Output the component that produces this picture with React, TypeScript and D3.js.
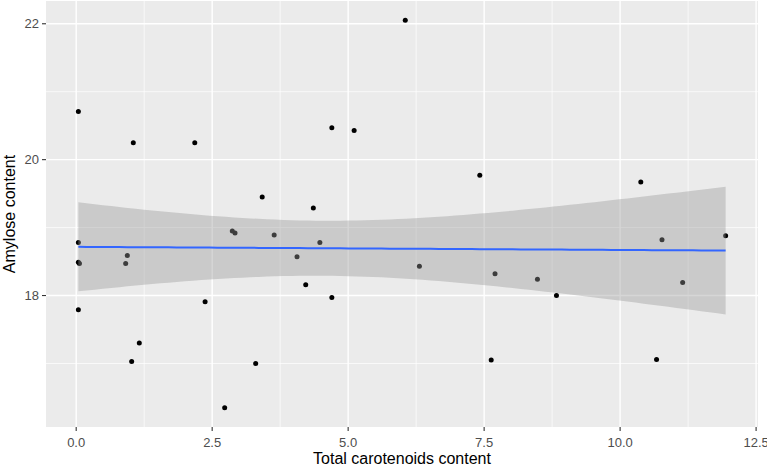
import React, { useEffect, useRef } from "react";
import * as d3 from "d3";

// Total carotenoids content (x) vs amylose content (y).
const carotenoids = [
    0.04, 1.05, 2.18, 6.05, 4.70, 5.11, 3.42, 4.36, 7.42, 3.64,
    10.38, 11.94, 10.77, 8.48, 8.83, 11.15, 10.67, 4.48, 4.06, 6.31,
    7.70, 4.22, 4.70, 7.63, 3.30, 0.04, 0.04, 0.06, 0.94, 0.91,
    0.04, 2.37, 1.16, 1.02, 2.73, 2.87, 2.92,
];

const amylose = [
    20.71, 20.25, 20.25, 22.05, 20.47, 20.43, 19.45, 19.29, 19.77, 18.89,
    19.67, 18.88, 18.82, 18.24, 18.00, 18.19, 17.06, 18.78, 18.57, 18.43,
    18.32, 18.16, 17.97, 17.05, 17.00, 18.78, 18.49, 18.47, 18.59, 18.47,
    17.79, 17.91, 17.30, 17.03, 16.35, 18.95, 18.92,
];

const xTicks = [0, 2.5, 5, 7.5, 10, 12.5];
const xMinorTicks = [1.25, 3.75, 6.25, 8.75, 11.25];
const yTicks = [18, 20, 22];
const yMinorTicks = [17, 19, 21];

const xTitle = "Total carotenoids content";
const yTitle = "Amylose content";

const width = 767;
const height = 468;
const panel = { left: 46, right: 758, top: 1, bottom: 427 };

// qt(0.975, n - 2) for n = 37, as used by geom_smooth(method = "lm").
const tCrit = 2.03;

interface IFitPoint {
    x: number;
    fit: number;
    lower: number;
    upper: number;
}

// Ordinary least squares with a 95% confidence band for the mean.
const linearFit = (xs: number[], ys: number[], steps: number): IFitPoint[] => {
    const n = xs.length;
    const mx = d3.mean(xs) as number;
    const my = d3.mean(ys) as number;
    let sxx = 0;
    let sxy = 0;
    xs.forEach((x, i) => {
        sxx += (x - mx) * (x - mx);
        sxy += (x - mx) * (ys[i] - my);
    });
    const slope = sxy / sxx;
    const intercept = my - slope * mx;
    let sse = 0;
    xs.forEach((x, i) => {
        const r = ys[i] - (intercept + slope * x);
        sse += r * r;
    });
    const s = Math.sqrt(sse / (n - 2));

    const [lo, hi] = d3.extent(xs) as [number, number];
    return d3.range(steps).map((i) => {
        const x = lo + (hi - lo) * i / (steps - 1);
        const fit = intercept + slope * x;
        const se = s * Math.sqrt(1 / n + (x - mx) * (x - mx) / sxx);
        return { x, fit, lower: fit - tCrit * se, upper: fit + tCrit * se };
    });
};

const App = (): React.ReactElement => {
    const svgRef = useRef<SVGSVGElement>(null);

    useEffect(() => {
        if (!svgRef.current) {
            return;
        }

        const svg = d3.select(svgRef.current);
        svg.selectAll("*").remove();

        // ggplot style 5% expansion of the data range.
        const [x0, x1] = d3.extent(carotenoids) as [number, number];
        const [y0, y1] = d3.extent(amylose) as [number, number];
        const dx = (x1 - x0) * 0.05;
        const dy = (y1 - y0) * 0.05;

        const x = d3.scaleLinear().domain([x0 - dx, x1 + dx]).range([panel.left, panel.right]);
        const y = d3.scaleLinear().domain([y0 - dy, y1 + dy]).range([panel.bottom, panel.top]);

        svg.append("rect")
            .attr("x", panel.left)
            .attr("y", panel.top)
            .attr("width", panel.right - panel.left)
            .attr("height", panel.bottom - panel.top)
            .attr("fill", "#EBEBEB");

        // Grid lines.
        const grid = svg.append("g");
        grid.selectAll("line.xminor")
            .data(xMinorTicks)
            .join("line")
            .attr("x1", (d) => x(d)).attr("x2", (d) => x(d))
            .attr("y1", panel.top).attr("y2", panel.bottom)
            .attr("stroke", "#FFFFFF").attr("stroke-width", 0.7);
        grid.selectAll("line.yminor")
            .data(yMinorTicks)
            .join("line")
            .attr("y1", (d) => y(d)).attr("y2", (d) => y(d))
            .attr("x1", panel.left).attr("x2", panel.right)
            .attr("stroke", "#FFFFFF").attr("stroke-width", 0.7);
        grid.selectAll("line.xmajor")
            .data(xTicks)
            .join("line")
            .attr("x1", (d) => x(d)).attr("x2", (d) => x(d))
            .attr("y1", panel.top).attr("y2", panel.bottom)
            .attr("stroke", "#FFFFFF").attr("stroke-width", 1.4);
        grid.selectAll("line.ymajor")
            .data(yTicks)
            .join("line")
            .attr("y1", (d) => y(d)).attr("y2", (d) => y(d))
            .attr("x1", panel.left).attr("x2", panel.right)
            .attr("stroke", "#FFFFFF").attr("stroke-width", 1.4);

        // Points first, so the smoother band shades them like in ggplot.
        svg.append("g")
            .selectAll("circle")
            .data(carotenoids)
            .join("circle")
            .attr("cx", (d) => x(d))
            .attr("cy", (_d, i) => y(amylose[i]))
            .attr("r", 2.5)
            .attr("fill", "#000000");

        const fit = linearFit(carotenoids, amylose, 80);

        const band = d3.area<IFitPoint>()
            .x((d) => x(d.x))
            .y0((d) => y(d.lower))
            .y1((d) => y(d.upper));
        svg.append("path")
            .attr("d", band(fit))
            .attr("fill", "#999999")
            .attr("fill-opacity", 0.4);

        const line = d3.line<IFitPoint>()
            .x((d) => x(d.x))
            .y((d) => y(d.fit));
        svg.append("path")
            .attr("d", line(fit))
            .attr("fill", "none")
            .attr("stroke", "#3366FF")
            .attr("stroke-width", 2);

        // Axes.
        const font = "'Liberation Sans', Arial, sans-serif";

        const xAxis = svg.append("g");
        xAxis.selectAll("line")
            .data(xTicks)
            .join("line")
            .attr("x1", (d) => x(d)).attr("x2", (d) => x(d))
            .attr("y1", panel.bottom).attr("y2", panel.bottom + 4)
            .attr("stroke", "#333333").attr("stroke-width", 1.1);
        xAxis.selectAll("text")
            .data(xTicks)
            .join("text")
            .attr("x", (d) => x(d))
            .attr("y", 447)
            .attr("text-anchor", "middle")
            .attr("font-family", font)
            .attr("font-size", 13)
            .attr("fill", "#4D4D4D")
            .text((d) => d3.format(".1f")(d));

        const yAxis = svg.append("g");
        yAxis.selectAll("line")
            .data(yTicks)
            .join("line")
            .attr("y1", (d) => y(d)).attr("y2", (d) => y(d))
            .attr("x1", panel.left - 4).attr("x2", panel.left)
            .attr("stroke", "#333333").attr("stroke-width", 1.1);
        yAxis.selectAll("text")
            .data(yTicks)
            .join("text")
            .attr("x", panel.left - 7)
            .attr("y", (d) => y(d))
            .attr("dy", "0.35em")
            .attr("text-anchor", "end")
            .attr("font-family", font)
            .attr("font-size", 13)
            .attr("fill", "#4D4D4D")
            .text((d) => d.toString());

        svg.append("text")
            .attr("x", (panel.left + panel.right) / 2)
            .attr("y", 464)
            .attr("text-anchor", "middle")
            .attr("font-family", font)
            .attr("font-size", 16)
            .attr("fill", "#000000")
            .text(xTitle);

        svg.append("text")
            .attr("transform", `translate(15,${(panel.top + panel.bottom) / 2}) rotate(-90)`)
            .attr("text-anchor", "middle")
            .attr("font-family", font)
            .attr("font-size", 16)
            .attr("fill", "#000000")
            .text(yTitle);
    }, []);

    return (
        <svg
            ref={svgRef}
            width={width}
            height={height}
            style={{ position: "absolute", left: 0, top: 0, background: "#FFFFFF" }}
        />
    );
};

export default App;
